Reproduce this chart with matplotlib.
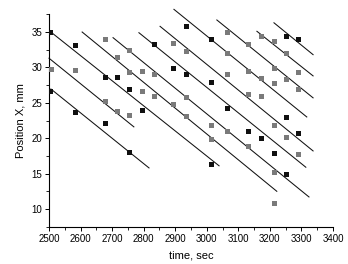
import numpy as np
import matplotlib
matplotlib.use("Agg")
from matplotlib import pyplot as plt
from matplotlib.ticker import MultipleLocator

# measured squares: time (sec), position (mm)
black_t = [2503, 2503, 2582, 2582, 2677, 2677, 2715, 2753, 2753, 2794, 2833,
           2892, 2933, 2933, 3013, 3013, 3013, 3064, 3131, 3172, 3212,
           3251, 3251, 3251, 3290, 3290]
black_y = [35.0, 26.7, 33.2, 23.7, 28.6, 22.1, 28.6, 26.9, 18.0, 24.0, 33.3,
           29.9, 35.9, 29.1, 34.0, 27.9, 16.3, 24.3, 21.0, 20.0, 17.9,
           34.4, 23.0, 15.0, 34.0, 20.7]

gray_t = [2506, 2582, 2677, 2677, 2715, 2715, 2753, 2753, 2753, 2794, 2794,
          2833, 2833, 2892, 2892, 2933, 2933, 2933, 3013, 3013,
          3064, 3064, 3064, 3064, 3131, 3131, 3131, 3131,
          3172, 3172, 3172, 3212, 3212, 3212, 3212, 3212, 3212,
          3251, 3251, 3251, 3290, 3290, 3290]
gray_y = [29.8, 29.6, 34.0, 25.2, 31.5, 23.8, 32.5, 29.3, 23.3, 29.5, 26.6,
          29.0, 25.9, 33.4, 24.9, 32.3, 25.8, 23.1, 21.8, 19.9,
          35.0, 32.0, 29.1, 21.0, 33.3, 29.5, 26.3, 18.9,
          34.4, 28.5, 25.9, 33.7, 29.9, 27.8, 21.9, 15.2, 10.9,
          32.0, 28.3, 20.1, 29.3, 26.9, 17.7]

# fitted tracks: start / end of each line
line_t0 = [2506, 2500, 2503, 2605, 2703, 2785, 2852, 2896, 3032, 3159, 3213]
line_y0 = [26.95, 31.3, 35.1, 35.0, 34.2, 34.9, 35.8, 38.2, 36.7, 35.1, 36.3]
line_t1 = [2817, 2769, 3039, 3222, 3324, 3314, 3337, 3317, 3337, 3337, 3337]
line_y1 = [15.8, 21.6, 16.1, 12.5, 11.7, 15.9, 18.2, 23.0, 25.7, 28.8, 31.8]

xticks = [2500, 2600, 2700, 2800, 2900, 3000, 3100, 3200, 3300, 3400]
yticks = [10, 15, 20, 25, 30, 35]

plt.rcParams['font.family'] = ['Liberation Sans', 'DejaVu Sans']

fig = plt.figure(figsize=(3.48, 2.64), dpi=100)
ax = fig.add_axes([0.1408, 0.1413, 0.816, 0.8045])

for t0, y0, t1, y1 in zip(line_t0, line_y0, line_t1, line_y1):
    ax.plot([t0, t1], [y0, y1], color='#111111', linewidth=0.75, clip_on=False, zorder=2)

ax.plot(gray_t, gray_y, 's', color='#7a7a7a', markersize=3.6, markeredgewidth=0, zorder=3)
ax.plot(black_t, black_y, 's', color='#101010', markersize=3.6, markeredgewidth=0, zorder=3)

ax.set_xlim(2500, 3400)
ax.set_ylim(7.5, 37.5)
ax.set_xticks(xticks)
ax.set_yticks(yticks)
ax.xaxis.set_minor_locator(MultipleLocator(50))
ax.yaxis.set_minor_locator(MultipleLocator(2.5))

for side in ['top', 'right']:
    ax.spines[side].set_visible(False)
for side in ['left', 'bottom']:
    ax.spines[side].set_linewidth(0.8)

ax.tick_params(which='major', direction='out', length=3, width=0.7, labelsize=7, pad=2)
ax.tick_params(which='minor', direction='out', length=2, width=0.6)

ax.set_xlabel("time, sec", fontsize=8, labelpad=5)
ax.set_ylabel("Position X, mm", fontsize=8, labelpad=4)

fig.savefig("out.png", dpi=100)
